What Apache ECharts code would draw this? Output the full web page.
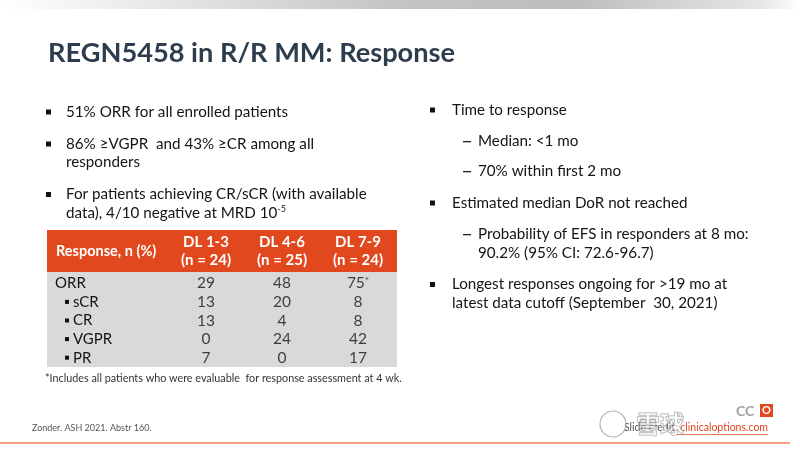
<!DOCTYPE html>
<html>
<head>
<meta charset="utf-8">
<script src="https://cdn.jsdelivr.net/npm/echarts@6/dist/echarts.min.js"></script>
<style>
html,body{margin:0;padding:0;background:#fff;}
#main{width:800px;height:450px;}
</style>
</head>
<body>
<div id="main"></div>
<script>
// ---------- DATA ----------
const titleText = 'REGN5458 in R/R MM: Response';
const leftBullets = [
  '51% ORR for all enrolled patients',
  '86% \u2265VGPR  and 43% \u2265CR among all\nresponders',
  'For patients achieving CR/sCR (with available\ndata), 4/10 negative at MRD 10{sup|-5}'
];
const rightItems = [
  [1, 'Time to response'],
  [2, 'Median: <1 mo'],
  [2, '70% within first 2 mo'],
  [1, 'Estimated median DoR not reached'],
  [2, 'Probability of EFS in responders at 8 mo:\n90.2% (95% CI: 72.6-96.7)'],
  [1, 'Longest responses ongoing for >19 mo at\nlatest data cutoff (September  30, 2021)']
];
const tableHeader = 'Response, n (%)';
const columns = ['DL 1-3', 'DL 4-6', 'DL 7-9'];
const columnN = [24, 25, 24];
const rows = ['ORR', 'sCR', 'CR', 'VGPR', 'PR'];
const rowIsSub = [false, true, true, true, true];
const dl13 = [29, 13, 13, 0, 7];
const dl46 = [48, 20, 4, 24, 0];
const dl79 = [75, 8, 8, 42, 17];
const starred = [[2, 0]]; // [column, row] with footnote mark
const footnote = '*Includes all patients who were evaluable  for response assessment at 4 wk.';
const sourceText = 'Zonder. ASH 2021. Abstr 160.';
const creditText = 'Slide credit: ';
const creditLink = 'clinicaloptions.com';

// ---------- LAYOUT / STYLE ----------
const FONT = 'Lato, "Open Sans", sans-serif';
const TXT = '#141414';
const ORANGE = '#e2481e';
const BODY = 15.2;
const chart = echarts.init(document.getElementById('main'), null, {renderer: 'canvas'});

const graphics = [];
// top gradient bar
graphics.push({type: 'rect', shape: {x: 0, y: 0, width: 800, height: 9}, silent: true,
  style: {fill: new echarts.graphic.LinearGradient(0, 0, 1, 0, [
    {offset: 0, color: '#ffffff'}, {offset: 0.5, color: '#c4c4c4'}, {offset: 0.72, color: '#bdbdbd'},
    {offset: 0.95, color: '#e6e6e6'}, {offset: 1, color: '#ffffff'}])}});
// title
graphics.push({type: 'text', silent: true, style: {x: 48, y: 53, text: titleText,
  font: 'bold 27.2px ' + FONT, fill: '#2e3d4d', verticalAlign: 'middle'}});

const LH = 18.5;
function addBullet(x, yc, sq) {
  graphics.push({type: 'rect', silent: true, shape: {x: x, y: yc - 2.5, width: sq, height: sq}, style: {fill: '#111'}});
}
function addText(x, yc, text, size) {
  graphics.push({type: 'text', silent: true, style: {x: x, y: yc - LH / 2, text: text,
    font: size + 'px ' + FONT, fill: TXT, lineHeight: LH, verticalAlign: 'top',
    rich: {sup: {fontSize: 9, fontFamily: FONT, fill: TXT, padding: [0, 0, 8, 0]}}}});
}
// left bullets
let yL = 112;
leftBullets.forEach(t => {
  addBullet(46, yL, 5);
  addText(66, yL, t, BODY);
  yL += (t.split('\n').length - 1) * LH + 32;
});
// right bullets
let yR = 110;
rightItems.forEach((it, i) => {
  const lvl = it[0], t = it[1];
  if (lvl === 1) { addBullet(430, yR, 5); addText(452, yR, t, BODY); }
  else {
    graphics.push({type: 'rect', silent: true, shape: {x: 463, y: yR - 0.5, width: 8, height: 1.3}, style: {fill: '#222'}});
    addText(478, yR, t, BODY);
  }
  const nl = t.split('\n').length - 1;
  const next = rightItems[i + 1];
  yR += nl * LH + (next && next[0] === 2 && lvl === 2 ? 30 : 31.5);
});
// table backgrounds
graphics.push({type: 'rect', silent: true, shape: {x: 47, y: 230, width: 350, height: 42}, style: {fill: ORANGE}});
graphics.push({type: 'rect', silent: true, shape: {x: 47, y: 272, width: 350, height: 95}, style: {fill: '#d9d9d9'}});
graphics.push({type: 'text', silent: true, style: {x: 56, y: 251, text: tableHeader,
  font: 'bold 14.5px ' + FONT, fill: '#ffffff', verticalAlign: 'middle'}});
graphics.push({type: 'text', silent: true, style: {x: 45, y: 379, text: footnote,
  font: '10.8px ' + FONT, fill: '#333', verticalAlign: 'middle'}});
// footer
graphics.push({type: 'text', silent: true, style: {x: 32, y: 428, text: sourceText,
  font: '9px ' + FONT, fill: '#555', verticalAlign: 'middle'}});
graphics.push({type: 'rect', silent: true, shape: {x: 0, y: 442, width: 790, height: 2}, style: {fill: '#f4a27f'}});
graphics.push({type: 'text', silent: true, style: {x: 768, y: 428, text: creditText + '{u|' + creditLink + '}',
  font: '10.5px ' + FONT, fill: '#555', align: 'right', verticalAlign: 'middle',
  rich: {u: {fontSize: 10.5, fontFamily: FONT, fill: ORANGE}}}});
graphics.push({type: 'rect', silent: true, shape: {x: 676, y: 434, width: 92, height: 0.8}, style: {fill: ORANGE}});
graphics.push({type: 'text', silent: true, style: {x: 736, y: 411, text: 'CC', font: 'bold 14px ' + FONT, fill: '#a0a0a0', verticalAlign: 'middle'}});
graphics.push({type: 'rect', silent: true, shape: {x: 760, y: 404, width: 13, height: 13}, style: {fill: ORANGE}});
graphics.push({type: 'text', silent: true, style: {x: 766.5, y: 410.5, text: 'O', font: 'bold 11px ' + FONT, fill: '#fff', align: 'center', verticalAlign: 'middle'}});
// watermark
graphics.push({type: 'circle', silent: true, shape: {cx: 613, cy: 424, r: 13}, style: {fill: 'rgba(255,255,255,0.55)', stroke: 'rgba(120,120,120,0.55)', lineWidth: 1.2}});
graphics.push({type: 'text', silent: true, style: {x: 636, y: 424, text: '雪球', font: 'bold 24px "Noto Sans CJK SC"',
  fill: 'rgba(255,255,255,0.5)', stroke: 'rgba(110,110,110,0.6)', lineWidth: 1, verticalAlign: 'middle'}});

// table values as scatter labels on category axes
const valueSets = [dl13, dl46, dl79];
const tableData = [];
valueSets.forEach((arr, c) => arr.forEach((v, r) => {
  const star = starred.some(s => s[0] === c && s[1] === r);
  tableData.push({value: [columns[c], rows[r], v], star: star});
}));

const option = {
  animation: false,
  backgroundColor: '#ffffff',
  textStyle: {fontFamily: FONT},
  grid: {left: 168, top: 274, width: 228, height: 93},
  xAxis: {type: 'category', position: 'top', data: columns,
    axisLine: {show: false}, axisTick: {show: false}, splitLine: {show: false},
    axisLabel: {interval: 0, margin: 5, color: '#ffffff', fontWeight: 'bold', fontSize: 15, lineHeight: 18, fontFamily: FONT,
      formatter: (v, i) => v + '\n(n = ' + columnN[i] + ')'}},
  yAxis: {type: 'category', inverse: true, data: rows,
    axisLine: {show: false}, axisTick: {show: false}, splitLine: {show: false},
    axisLabel: {interval: 0, margin: 113, align: 'left', color: TXT, fontSize: 15, fontFamily: FONT,
      formatter: (v, i) => rowIsSub[i] ? '{pad|}{sq|}{gap|}' + v : v,
      rich: {pad: {width: 10, height: 4}, sq: {width: 4, height: 4, backgroundColor: '#111'}, gap: {width: 4, height: 4}}}},
  series: [{type: 'scatter', data: tableData, symbolSize: 1, itemStyle: {color: 'rgba(0,0,0,0)'},
    label: {show: true, position: 'inside', color: TXT, fontSize: 15.5, fontFamily: FONT,
      formatter: p => p.data.star ? p.value[2] + '{sup|*}' : String(p.value[2]),
      rich: {sup: {fontSize: 10, color: TXT, padding: [0, 0, 6, 0]}}}}],
  graphic: graphics
};
chart.setOption(option);
</script>
</body>
</html>
